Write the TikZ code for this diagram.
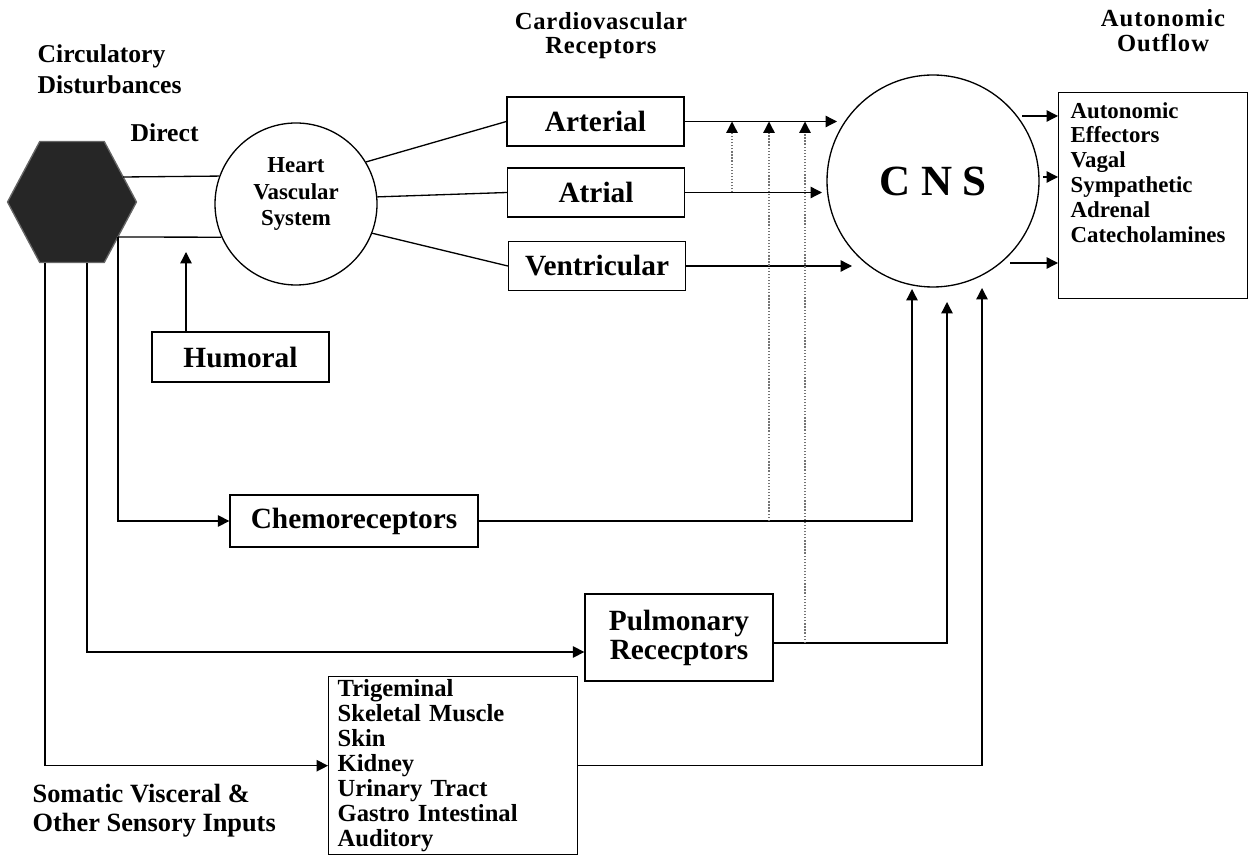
\documentclass[tikz,border=0pt]{standalone}
\usepackage{fontspec}
\setmainfont{Liberation Serif}
\usetikzlibrary{arrows.meta,shapes.geometric}

\begin{document}
\begin{tikzpicture}[
		line width=0.75pt,
		arr/.style={-{Triangle[length=6.5pt,width=6.5pt]}},
		dotarrow/.style={densely dotted, black!55, -{Triangle[length=6.5pt,width=6.5pt,color=black]}},
		recbox/.style={draw, minimum width=3.54cm, minimum height=0.98cm, inner sep=0pt,
			font=\bfseries\fontsize{16.7}{18}\selectfont}
	]
		\useasboundingbox (0,0) rectangle (25,-17.36);

		% labels
		\node[align=left, anchor=north west, inner sep=0pt, font=\bfseries\fontsize{14.6}{17.6}\selectfont] (circ) at (0.74,-0.89) {Circulatory\\Disturbances};
		\node[anchor=base west, inner sep=0pt, font=\bfseries\fontsize{14.6}{17.6}\selectfont] (direct) at (2.6,-2.84) {Direct};
		\node[align=center, anchor=north, inner sep=0pt, font=\bfseries\fontsize{14}{13.7}\selectfont\addfontfeatures{LetterSpace=3}] (cvr) at (12.02,-0.23) {Cardiovascular\\Receptors};
		\node[align=center, anchor=north, inner sep=0pt, font=\bfseries\fontsize{14}{14.2}\selectfont\addfontfeatures{LetterSpace=4}] (aol) at (23.26,-0.17) {Autonomic\\Outflow};
		\node[align=left, anchor=north west, inner sep=0pt, font=\bfseries\fontsize{15}{16.5}\selectfont] (somlbl) at (0.64,-15.68) {Somatic Visceral \&\\Other Sensory Inputs};

		% disturbance source
		\node[regular polygon, regular polygon sides=6, minimum size=2.58cm, yscale=1.083, inner sep=0pt, fill=black!85, draw=black!60] (dist) at (1.44,-4.04) {};
		\coordinate (dup) at (2.46,-3.54);
		\coordinate (dlow) at (2.36,-4.74);

		\node[circle, draw, minimum size=3.24cm, inner sep=0pt] (heart) at (5.92,-4.08) {};
		\node[align=center, inner sep=0pt, font=\bfseries\fontsize{13}{15}\selectfont] (heart-txt) at (5.92,-3.88) {Heart\\Vascular\\System};
		\node[circle, draw, minimum size=4.24cm, inner sep=0pt, font=\bfseries\fontsize{24.5}{28}\selectfont] (cns) at (18.66,-3.62) {C N S};

		% receptors
		\node[recbox] (arterial) at (11.91,-2.43) {Arterial};
		\node[recbox] (atrial) at (11.92,-3.85) {Atrial};
		\node[recbox] (ventricular) at (11.94,-5.32) {Ventricular};
		\node[recbox, minimum height=1cm] (humoral) at (4.81,-7.14) {Humoral};
		\node[recbox, minimum width=4.96cm, minimum height=1.04cm] (chemo) at (7.08,-10.42) {Chemoreceptors};
		\node[recbox, align=center, minimum width=3.76cm, minimum height=1.74cm, font=\bfseries\fontsize{16.7}{16.5}\selectfont] (pulm) at (13.58,-12.75) {Pulmonary\\Rececptors};
		\node[draw, anchor=north west, text width=4.62cm, align=left, inner xsep=0.18cm, inner ysep=0.06cm, font=\bfseries\fontsize{14}{14.2}\selectfont] (somatic) at (6.56,-13.52) {Trigeminal\\Skeletal Muscle\\Skin\\Kidney\\Urinary Tract\\Gastro Intestinal\\Auditory};

		% effectors
		\node[draw, anchor=north west, minimum width=3.78cm, minimum height=4.12cm] (outflow) at (21.16,-1.84) {};
		\node[align=left, anchor=north west, inner sep=0pt, font=\bfseries\fontsize{13}{14.2}\selectfont] (outflow-txt) at (21.4,-2.03) {Autonomic\\Effectors\\Vagal\\Sympathetic\\Adrenal\\Catecholamines};

		% direct and humoral paths
		\draw (dup) -- (heart.160.5);
		\draw (dlow) -- (heart.204);
		\coordinate (hum) at (3.72,-5.04);
		\draw[arr] (humoral.north -| hum) -- (hum);
		\draw (heart.31) -- (arterial.west);
		\draw (heart.5) -- (atrial.west);
		\draw (heart.-21) -- (ventricular.west);

		% receptors to CNS
		\coordinate (art-in) at (16.74,-2.43);
		\coordinate (atr-in) at (16.44,-3.85);
		\coordinate (ven-in) at (17.04,-5.32);
		\draw[arr] (arterial.east) -- (art-in);
		\draw[arr] (atrial.east) -- (atr-in);
		\draw[arr] (ventricular.east) -- (ven-in);

		\draw[arr] (dlow) |- (chemo.west);
		\draw[arr] ([xshift=0.3cm]dist.south) |- ([yshift=-0.29cm]pulm.west);
		\draw[arr] ([xshift=-0.54cm]dist.south) |- (somatic.west);

		\coordinate (chem-in) at (18.24,-5.78);
		\coordinate (pline) at ([yshift=-0.11cm]pulm.east);
		\coordinate (pul-in) at (18.94,-6.04);
		\coordinate (som-in) at (19.64,-5.76);
		\draw[arr] (chemo.east) -| (chem-in);
		\draw[arr] (pline) -| (pul-in);
		\draw[arr] (somatic.east) -| (som-in);

		% interactions with arterial input
		\coordinate (d1) at (14.64,-2.43);
		\coordinate (d2) at (15.38,-2.43);
		\coordinate (d3) at (16.10,-2.43);
		\draw[dotarrow] (d1 |- atrial.east) -- (d1);
		\draw[dotarrow] (d2 |- chemo.east) -- (d2);
		\draw[dotarrow] (d3 |- pline) -- (d3);

		% outflow
		\coordinate (o1) at (20.44,-2.32);
		\coordinate (o2) at (20.86,-3.54);
		\coordinate (o3) at (20.2,-5.26);
		\draw[arr] (o1) -- (o1 -| outflow.west);
		\draw[arr] (o2) -- (o2 -| outflow.west);
		\draw[arr] (o3) -- (o3 -| outflow.west);
	\end{tikzpicture}
\end{document}
